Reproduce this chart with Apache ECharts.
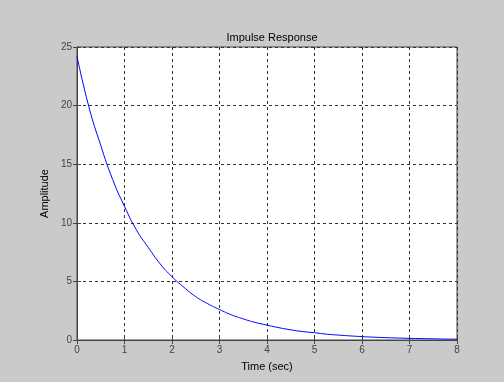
<!DOCTYPE html>
<html><head><meta charset="utf-8">
<script src="https://cdn.jsdelivr.net/npm/echarts@6/dist/echarts.min.js"></script>
<style>html,body{margin:0;padding:0;background:#cacaca;}#c{width:504px;height:382px;}</style>
</head><body><div id="c"></div>
<script>
const titleText = "Impulse Response";
const xName = "Time (sec)";
const yName = "Amplitude";
const timeValues = [0,0.25,0.5,0.75,1,1.25,1.5,1.75,2,2.25,2.5,2.75,3,3.25,3.5,3.75,4,4.25,4.5,4.75,5,5.25,5.5,5.75,6,6.25,6.5,6.75,7,7.25,7.5,7.75,8];
const amplitudeValues = [24.2,19.9,16.6,13.7,11.4,9.4,7.9,6.5,5.4,4.5,3.7,3.1,2.6,2.15,1.8,1.5,1.27,1.05,0.87,0.72,0.62,0.5,0.42,0.35,0.29,0.24,0.2,0.17,0.14,0.12,0.1,0.08,0.07];
const xTicks = [0,1,2,3,4,5,6,7,8];
const yTicks = [0,5,10,15,20,25];

const chart = echarts.init(document.getElementById('c'), null, {renderer:'canvas'});
const gridLine = {show:true, lineStyle:{color:'#333', type:[3,3], width:1}};
chart.setOption({
  backgroundColor:'#cacaca',
  animation:false,
  title:{text:titleText, left:267, top:27, textAlign:'center',
    textStyle:{fontFamily:'Liberation Sans, Arial', fontSize:11, fontWeight:'normal', color:'#000'}},
  grid:{left:77, right:47, top:47, bottom:42, show:true, backgroundColor:'#fff', borderColor:'#444', borderWidth:1},
  xAxis:[{
    type:'value', min:xTicks[0], max:xTicks[xTicks.length-1], interval:1,
    name:xName, nameLocation:'middle', nameGap:21,
    nameTextStyle:{fontFamily:'Liberation Sans, Arial', fontSize:11, color:'#000'},
    axisLine:{show:true, lineStyle:{color:'#444'}},
    axisTick:{show:true, inside:true, length:4, lineStyle:{color:'#444'}},
    axisLabel:{fontFamily:'Liberation Sans, Arial', fontSize:10, color:'#444', margin:5},
    splitLine:gridLine
  },{
    type:'value', position:'top', min:0, max:8, interval:1,
    axisLine:{show:true, lineStyle:{color:'#444'}},
    axisTick:{show:true, inside:true, length:4, lineStyle:{color:'#444'}},
    axisLabel:{show:false}, splitLine:{show:false}
  }],
  yAxis:[{
    type:'value', min:yTicks[0], max:yTicks[yTicks.length-1], interval:5,
    name:yName, nameLocation:'middle', nameGap:24,
    nameTextStyle:{fontFamily:'Liberation Sans, Arial', fontSize:11, color:'#000'},
    axisLine:{show:true, lineStyle:{color:'#444'}},
    axisTick:{show:true, inside:true, length:4, lineStyle:{color:'#444'}},
    axisLabel:{fontFamily:'Liberation Sans, Arial', fontSize:10, color:'#444', margin:5},
    splitLine:gridLine
  },{
    type:'value', position:'right', min:0, max:25, interval:5,
    axisLine:{show:true, lineStyle:{color:'#444'}},
    axisTick:{show:true, inside:true, length:4, lineStyle:{color:'#444'}},
    axisLabel:{show:false}, splitLine:{show:false}
  }],
  series:[{
    type:'line', smooth:true, showSymbol:false, xAxisIndex:0, yAxisIndex:0,
    data: timeValues.map((t,i)=>[t, amplitudeValues[i]]),
    lineStyle:{color:'#0000ff', width:1}
  }]
});
</script></body></html>
